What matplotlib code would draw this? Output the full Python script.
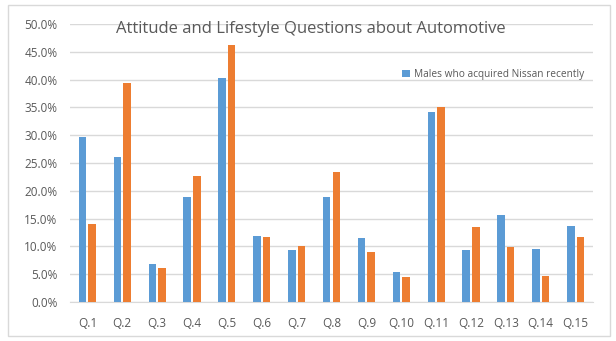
import numpy as np
import matplotlib.pyplot as plt
from matplotlib.patches import Rectangle
from matplotlib.ticker import PercentFormatter

questions = ['Q.1', 'Q.2', 'Q.3', 'Q.4', 'Q.5', 'Q.6', 'Q.7', 'Q.8',
             'Q.9', 'Q.10', 'Q.11', 'Q.12', 'Q.13', 'Q.14', 'Q.15']
males_nissan = [29.7, 26.1, 6.8, 18.9, 40.3, 11.9, 9.4, 18.9,
                11.5, 5.4, 34.2, 9.4, 15.6, 9.5, 13.7]
comparison = [14.0, 39.4, 6.1, 22.7, 46.2, 11.7, 10.1, 23.4,
              9.0, 4.5, 35.1, 13.5, 9.9, 4.7, 11.7]

plt.rcParams['font.family'] = ['Open Sans', 'DejaVu Sans']

fig = plt.figure(figsize=(6.16, 3.41), dpi=100)
# outer chart border
fig.patches.append(Rectangle((8/616, 5/341), 602/616, 331/341, transform=fig.transFigure,
                             fill=False, edgecolor='#d9d9d9', linewidth=1))
ax = fig.add_axes([70/616, 1 - 302/341, 523/616, 278/341])

x = np.arange(len(questions))
w = 0.215
ax.bar(x - 0.1375, males_nissan, width=w, color='#5B9BD5', label='Males who acquired Nissan recently', zorder=3)
ax.bar(x + 0.1375, comparison, width=w, color='#ED7D31', zorder=3)

ax.set_xlim(-0.5, len(questions) - 0.5)
ax.set_ylim(0, 50)
ax.set_yticks(np.arange(0, 50.1, 5))
ax.yaxis.set_major_formatter(PercentFormatter(decimals=1))
ax.set_xticks(x)
ax.set_xticklabels(questions)
ax.grid(axis='y', color='#d9d9d9', linewidth=1, zorder=0)
for s in ['top', 'right', 'left']:
    ax.spines[s].set_visible(False)
ax.spines['bottom'].set_color('#d9d9d9')
ax.tick_params(axis='both', length=0, labelsize=8.5, colors='#595959')
ax.tick_params(axis='x', pad=11)
ax.tick_params(axis='y', pad=9)

fig.text(311/616, 1 - 29/341, 'Attitude and Lifestyle Questions about Automotive',
         ha='center', va='center', fontsize=12, color='#595959')
ax.legend(loc='upper right', bbox_to_anchor=(1.0, 0.87), frameon=False, fontsize=7.3,
          labelcolor='#595959', handlelength=0.7, handleheight=0.7, handletextpad=0.4)

fig.savefig('out.png', dpi=100)
